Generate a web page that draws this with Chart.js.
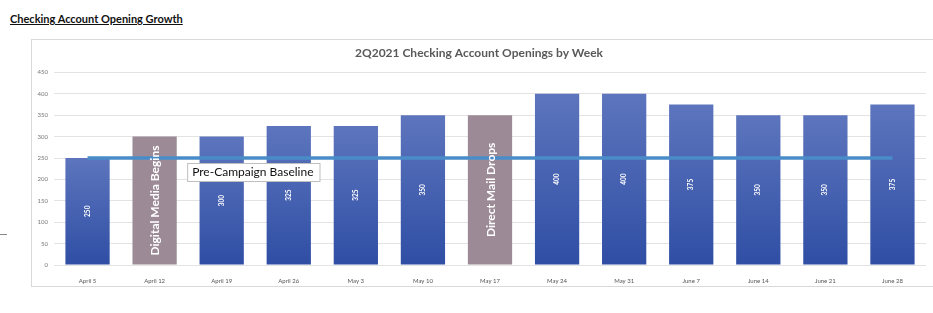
<!DOCTYPE html>
<html>
<head>
<meta charset="utf-8">
<script src="https://cdn.jsdelivr.net/npm/chart.js@4"></script>
<style>
  body { margin: 0; background: #fff; width: 933px; height: 313px; overflow: hidden; position: relative; font-family: Lato, sans-serif; }
  #header { position: absolute; left: 10px; top: 12px; font: bold 11px Lato, sans-serif; color: #111; text-decoration: underline; }
  #dash { position: absolute; left: 0; top: 234px; width: 7px; height: 1px; background: #888; }
  #frame { position: absolute; left: 31px; top: 39px; width: 910px; height: 246px; border: 1px solid #d9d9d9; border-right: none; }
</style>
</head>
<body>
<div id="header">Checking Account Opening Growth</div>
<div id="dash"></div>
<div id="frame"><canvas id="weekChart"></canvas></div>
<script>
const weeks = ['April 5', 'April 12', 'April 19', 'April 26', 'May 3', 'May 10', 'May 17',
               'May 24', 'May 31', 'June 7', 'June 14', 'June 21', 'June 28'];
const openings = [250, 300, 300, 325, 325, 350, 350, 400, 400, 375, 350, 350, 375];
const baseline = [250, 250, 250, 250, 250, 250, 250, 250, 250, 250, 250, 250, 250];
const milestones = ['', 'Digital Media Begins', '', '', '', '', 'Direct Mail Drops', '', '', '', '', '', ''];
const baselineLabel = 'Pre-Campaign Baseline';
const yTicks = [0, 50, 100, 150, 200, 250, 300, 350, 400, 450];

function barFill(ctx) {
    const chart = ctx.chart;
    const area = chart.chartArea;
    const i = ctx.dataIndex;
    if (!area || i === undefined) return '#3d5cad';
    if (milestones[i]) return '#9c8b96';
    const top = chart.scales.y.getPixelForValue(openings[i]);
    const g = chart.ctx.createLinearGradient(0, top, 0, area.bottom);
    g.addColorStop(0, '#5d75bd');
    g.addColorStop(1, '#2f4ea4');
    return g;
}

const barText = {
    id: 'barText',
    afterDatasetsDraw(chart) {
        const c = chart.ctx;
        const bars = chart.getDatasetMeta(0).data;
        c.save();
        c.fillStyle = '#fff';
        c.textAlign = 'center';
        c.textBaseline = 'middle';
        bars.forEach((bar, i) => {
            const cy = (bar.y + bar.base) / 2;
            c.save();
            c.translate(bar.x, cy);
            c.rotate(-Math.PI / 2);
            if (milestones[i]) {
                c.font = 'bold 12px Lato, sans-serif';
                c.fillText(milestones[i], 0, 1);
            } else {
                c.font = 'bold 6.5px Lato, sans-serif';
                c.fillText(String(openings[i]), 0, 0);
            }
            c.restore();
        });
        // baseline label box
        const xs = chart.scales.x, ys = chart.scales.y;
        const left = (xs.getPixelForValue(1) + xs.getPixelForValue(2)) / 2 - 1;
        const top = ys.getPixelForValue(baseline[0]) + 5;
        c.font = '12px Lato, sans-serif';
        const w = c.measureText(baselineLabel).width + 11;
        c.fillStyle = '#fff';
        c.fillRect(left, top, w, 18);
        c.strokeStyle = '#bfbfbf';
        c.lineWidth = 1;
        c.strokeRect(left + 0.5, top + 0.5, w, 18);
        c.fillStyle = '#111';
        c.textAlign = 'left';
        c.fillText(baselineLabel, left + 5, top + 9.5);
        c.restore();
    }
};

new Chart(document.getElementById('weekChart').getContext('2d'), {
    type: 'bar',
    data: {
        labels: weeks,
        datasets: [{
            type: 'bar',
            data: openings,
            backgroundColor: barFill,
            categoryPercentage: 1,
            barPercentage: 0.66,
            order: 2
        }, {
            type: 'line',
            data: baseline,
            borderColor: '#4a8cc8',
            borderWidth: 3.5,
            pointRadius: 0,
            fill: false,
            order: 1
        }]
    },
    options: {
        responsive: true,
        maintainAspectRatio: false,
        animation: false,
        layout: { padding: { left: 0, right: 16, top: 0, bottom: 0 } },
        plugins: {
            legend: { display: false },
            tooltip: { enabled: false },
            title: {
                display: true,
                text: '2Q2021 Checking Account Openings by Week',
                color: '#595959',
                font: { family: 'Lato', size: 12, weight: 'bold' },
                padding: { top: 6, bottom: 12 }
            }
        },
        scales: {
            x: {
                grid: { display: false },
                border: { display: false },
                ticks: { color: '#555', font: { family: 'Lato', size: 6 }, padding: 4, maxRotation: 0, autoSkip: false },
                afterFit: s => { s.height = 21; }
            },
            y: {
                min: 0, max: 450,
                afterBuildTicks: s => { s.ticks = yTicks.map(v => ({ value: v })); },
                grid: { color: '#e3e3e3', drawTicks: false },
                border: { display: false },
                ticks: { color: '#777', font: { family: 'Lato', size: 6 }, padding: 6 },
                afterFit: s => { s.width = 22; }
            }
        }
    },
    plugins: [barText]
});
</script>
</body>
</html>
